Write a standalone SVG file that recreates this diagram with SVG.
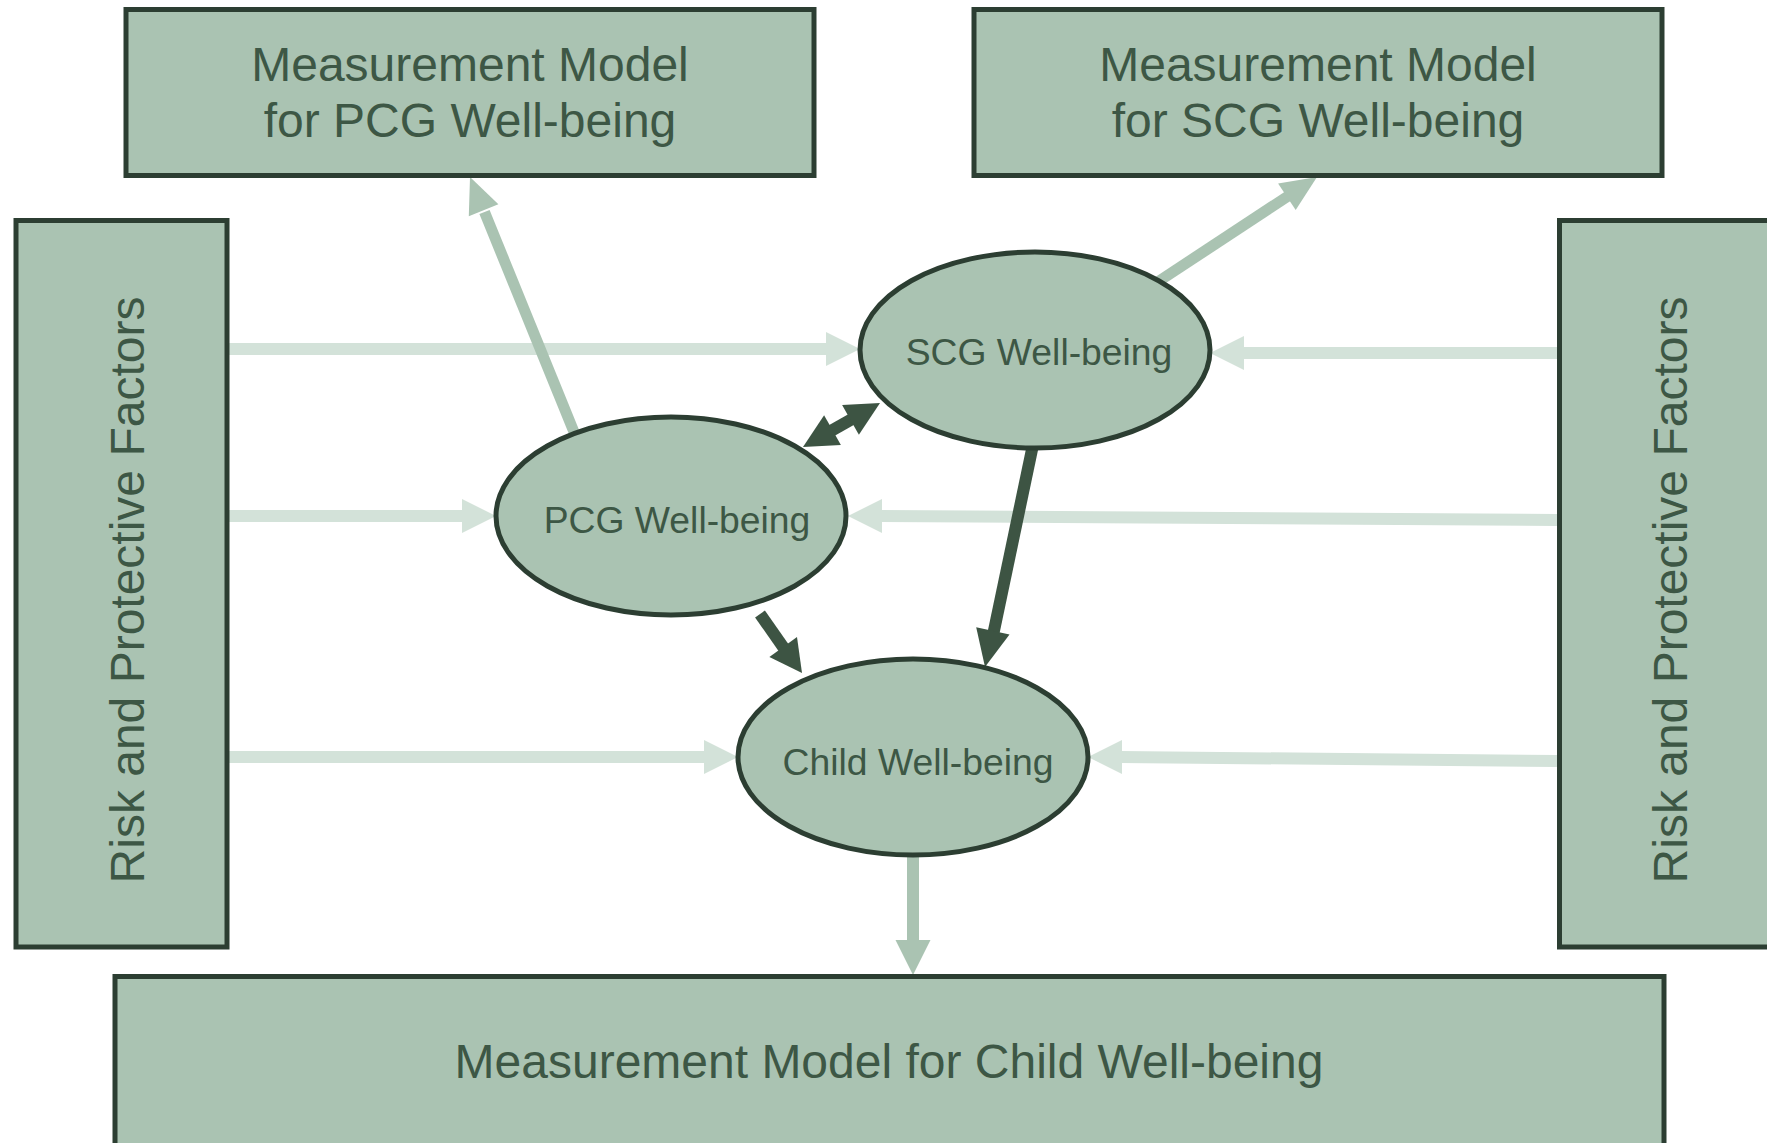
<svg xmlns="http://www.w3.org/2000/svg" width="1767" height="1143" viewBox="0 0 1767 1143">
<style>
.box{fill:#aac3b2;stroke:#2c3e32;stroke-width:5}
.ell{fill:#aac3b2;stroke:#2c3e32;stroke-width:5}
.t{font-family:"Liberation Sans",Arial,sans-serif;fill:#3d5745;text-anchor:middle}
.big{font-size:48px}
.mid{font-size:37.3px}
.light{stroke:#d3e2d9;stroke-width:12;fill:none}
.lighth{fill:#d3e2d9}
.med{stroke:#aac3b2;stroke-width:11;fill:none}
.medh{fill:#aac3b2}
.dark{stroke:#3d5443;stroke-width:12;fill:none}
.darkh{fill:#3d5443}
</style>
<rect width="1767" height="1143" fill="#ffffff"/>
<g id="connectors">
  <!-- risk factors left -->
  <line class="light" x1="229" y1="349" x2="828" y2="349"/>
  <polygon class="lighth" points="860,349 826,332 826,366"/>
  <line class="light" x1="229" y1="516" x2="464" y2="516"/>
  <polygon class="lighth" points="496,516 462,499 462,533"/>
  <line class="light" x1="229" y1="757" x2="706" y2="757"/>
  <polygon class="lighth" points="738,757 704,740 704,774"/>
  <!-- risk factors right -->
  <line class="light" x1="1557" y1="353" x2="1242" y2="353"/>
  <polygon class="lighth" points="1210,353 1244,336 1244,370"/>
  <line class="light" x1="1557" y1="520" x2="880" y2="516"/>
  <polygon class="lighth" points="848,516 882,499 882,533"/>
  <line class="light" x1="1557" y1="761" x2="1120" y2="757"/>
  <polygon class="lighth" points="1088,757 1122,740 1122,774"/>
  <!-- measurement arrows -->
  <line class="med" x1="574" y1="432" x2="484.5" y2="212"/>
  <polygon class="medh" points="470,177 498.4,204.3 468.8,216.3"/>
  <line class="med" x1="1150" y1="287" x2="1289" y2="195.5"/>
  <polygon class="medh" points="1317,177 1295.7,210.1 1278.1,183.4"/>
  <line class="med" x1="913" y1="850" x2="913" y2="942" style="stroke-width:12"/>
  <polygon class="medh" points="913,975 895.5,940 930.5,940"/>
  <!-- structural paths -->
  <line class="dark" x1="760" y1="614" x2="784.5" y2="649"/>
  <polygon class="darkh" points="802,673 769.4,657.1 797,637.1"/>
  <line class="dark" x1="1034" y1="440" x2="993.5" y2="633"/>
  <polygon class="darkh" points="985,667 976.2,627.2 1009.5,634.5"/>
  <line class="dark" x1="830" y1="431.5" x2="853" y2="418.5"/>
  <polygon class="darkh" points="803,447 840.9,444.9 824.1,415.3"/>
  <polygon class="darkh" points="880,403 858.9,434.7 842.1,405.1"/>
</g>
<g id="pcg-measure">
  <rect class="box" x="126" y="9.5" width="688" height="166"/>
  <text class="t big" x="470" y="81">Measurement Model</text>
  <text class="t big" x="470" y="137">for PCG Well-being</text>
</g>
<g id="scg-measure">
  <rect class="box" x="974" y="9.5" width="688" height="166"/>
  <text class="t big" x="1318" y="81">Measurement Model</text>
  <text class="t big" x="1318" y="137">for SCG Well-being</text>
</g>
<g id="risk-left">
  <rect class="box" x="16" y="220.5" width="211" height="726.5"/>
  <text class="t big" transform="translate(144,590) rotate(-90)">Risk and Protective Factors</text>
</g>
<g id="risk-right">
  <rect class="box" x="1559.5" y="220.5" width="260" height="726.5"/>
  <text class="t big" transform="translate(1687,590) rotate(-90)">Risk and Protective Factors</text>
</g>
<g id="child-measure">
  <rect class="box" x="115" y="976.5" width="1549" height="200"/>
  <text class="t big" x="889" y="1078">Measurement Model for Child Well-being</text>
</g>
<g id="scg">
  <ellipse class="ell" cx="1035" cy="350" rx="175" ry="98"/>
  <text class="t mid" x="1039" y="365">SCG Well-being</text>
</g>
<g id="pcg">
  <ellipse class="ell" cx="671" cy="516" rx="175" ry="99"/>
  <text class="t mid" x="677" y="533">PCG Well-being</text>
</g>
<g id="child">
  <ellipse class="ell" cx="913" cy="757" rx="175" ry="98"/>
  <text class="t mid" x="918" y="775">Child Well-being</text>
</g>
</svg>
